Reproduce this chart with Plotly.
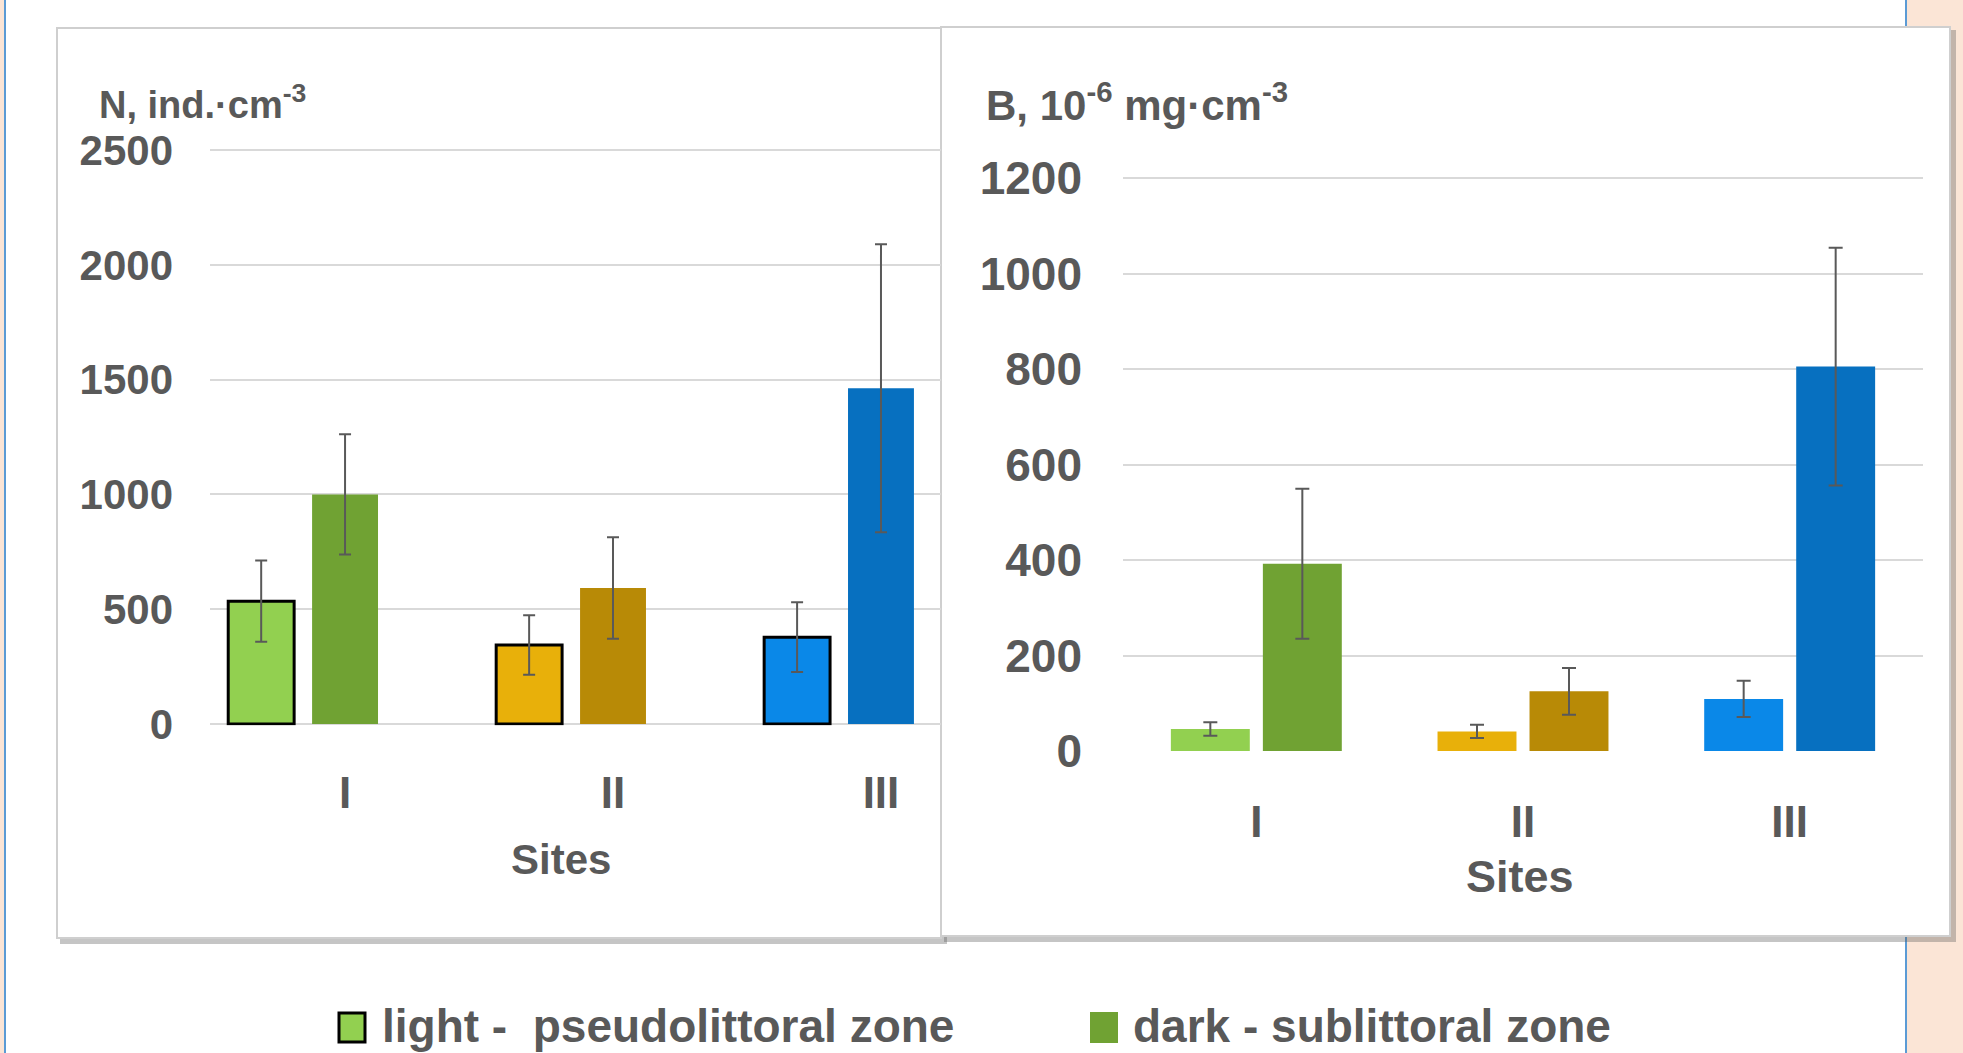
import plotly.graph_objects as go

# ---------------- data ----------------
sites = ["I", "II", "III"]

N_light = [535, 344, 378]
N_light_err = [177, 130, 152]
N_dark = [1000, 592, 1462]
N_dark_err = [262, 221, 627]

B_light = [46, 41, 109]
B_light_err = [14, 14, 38]
B_dark = [392, 125, 805]
B_dark_err = [157, 49, 249]

light_colors = ["#92D050", "#E8B00A", "#0A88E8"]
dark_colors = ["#70A233", "#B88A06", "#0770C0"]

N_ticks = [0, 500, 1000, 1500, 2000, 2500]
B_ticks = [0, 200, 400, 600, 800, 1000, 1200]

legend_labels = ["light -&nbsp; pseudolittoral zone", "dark - sublittoral zone"]

# ---------------- layout geometry (pixels) ----------------
W, H = 1963, 1053
FONT = "Liberation Sans, Arial, sans-serif"
TXT = "#595959"


def px(x):
    return x / W


def py(y):
    return 1 - y / H


fig = go.Figure()

err_style = dict(type="data", color=TXT, thickness=2)

# Left panel (N)
fig.add_trace(go.Bar(
    x=sites, y=N_light, offset=-0.436, width=0.246,
    marker=dict(color=light_colors, line=dict(color="#000000", width=3)),
    error_y=dict(array=N_light_err, width=6, **err_style),
    xaxis="x", yaxis="y", showlegend=False))
fig.add_trace(go.Bar(
    x=sites, y=N_dark, offset=-0.123, width=0.246,
    marker=dict(color=dark_colors, line=dict(width=0)),
    error_y=dict(array=N_dark_err, width=6, **err_style),
    xaxis="x", yaxis="y", showlegend=False))

# Right panel (B)
fig.add_trace(go.Bar(
    x=sites, y=B_light, offset=-0.3205, width=0.296,
    marker=dict(color=light_colors, line=dict(width=0)),
    error_y=dict(array=B_light_err, width=7, **err_style),
    xaxis="x2", yaxis="y2", showlegend=False))
fig.add_trace(go.Bar(
    x=sites, y=B_dark, offset=0.0245, width=0.296,
    marker=dict(color=dark_colors, line=dict(width=0)),
    error_y=dict(array=B_dark_err, width=7, **err_style),
    xaxis="x2", yaxis="y2", showlegend=False))

grid = "#D9D9D9"

fig.update_layout(
    width=W, height=H,
    margin=dict(l=0, r=0, t=0, b=0),
    paper_bgcolor="white",
    plot_bgcolor="rgba(0,0,0,0)",
    barmode="overlay",
    font=dict(family=FONT, color=TXT),
    xaxis=dict(domain=[px(210), px(941)], range=[-0.504, 2.224], type="category",
               categoryorder="array", categoryarray=sites,
               showgrid=False, zeroline=False, showline=False, ticks="",
               tickfont=dict(family=FONT, size=44, color=TXT, weight="bold"),
               ticklabelstandoff=38, automargin=False, fixedrange=True),
    yaxis=dict(domain=[py(725.15), py(148.85)], range=[-5, 2505], tickvals=N_ticks,
               showgrid=True, gridcolor=grid, gridwidth=2, zeroline=False,
               showline=False, ticks="",
               tickfont=dict(family=FONT, size=42, color=TXT, weight="bold"),
               ticklabelstandoff=36, automargin=False, fixedrange=True),
    xaxis2=dict(domain=[px(1123), px(1923)], range=[-0.5, 2.5], type="category",
                categoryorder="array", categoryarray=sites, anchor="y2",
                showgrid=False, zeroline=False, showline=False, ticks="",
                tickfont=dict(family=FONT, size=44, color=TXT, weight="bold"),
                ticklabelstandoff=40, automargin=False, fixedrange=True),
    yaxis2=dict(domain=[py(751.96), py(176.57)], range=[-2, 1203], tickvals=B_ticks,
                anchor="x2",
                showgrid=True, gridcolor=grid, gridwidth=2, zeroline=False,
                showline=False, ticks="",
                tickfont=dict(family=FONT, size=46, color=TXT, weight="bold"),
                ticklabelstandoff=40, automargin=False, fixedrange=True),
)

shapes = []
# peach page background strips and blue page borders
shapes.append(dict(type="rect", xref="paper", yref="paper", x0=px(1907), x1=1, y0=0, y1=1,
                   fillcolor="#FBE5D6", line=dict(width=0), layer="below"))
shapes.append(dict(type="rect", xref="paper", yref="paper", x0=0, x1=px(4), y0=0, y1=1,
                   fillcolor="#FBE5D6", line=dict(width=0), layer="below"))
shapes.append(dict(type="line", xref="paper", yref="paper", x0=px(1906), x1=px(1906), y0=0, y1=1,
                   line=dict(color="#5B9BD5", width=2), layer="below"))
shapes.append(dict(type="line", xref="paper", yref="paper", x0=px(5), x1=px(5), y0=0, y1=1,
                   line=dict(color="#5B9BD5", width=2), layer="below"))


def panel(x0, y0, x1, y1):
    # shadow
    shapes.append(dict(type="rect", xref="paper", yref="paper",
                       x0=px(x0 + 3), x1=px(x1 + 6), y0=py(y1 + 6), y1=py(y0 + 3),
                       fillcolor="rgba(90,90,90,0.35)", line=dict(width=0), layer="below"))
    shapes.append(dict(type="rect", xref="paper", yref="paper",
                       x0=px(x0), x1=px(x1), y0=py(y1), y1=py(y0),
                       fillcolor="white", line=dict(color="#CFCFCF", width=2), layer="below"))


panel(57, 28, 941, 938)
panel(941, 27, 1950, 936)

# legend swatches
shapes.append(dict(type="rect", xref="paper", yref="paper",
                   x0=px(339), x1=px(365), y0=py(1042), y1=py(1013),
                   fillcolor=light_colors[0], line=dict(color="#000000", width=3)))
shapes.append(dict(type="rect", xref="paper", yref="paper",
                   x0=px(1090), x1=px(1118), y0=py(1043), y1=py(1012),
                   fillcolor=dark_colors[0], line=dict(width=0)))
fig.update_layout(shapes=shapes)

ann = []
bold = dict(family=FONT, color=TXT, weight="bold")
ann.append(dict(xref="paper", yref="paper", x=px(97), y=py(102), xanchor="left", yanchor="middle",
                text="N, ind.·cm<sup>-3</sup>", showarrow=False, font=dict(size=38, **bold)))
ann.append(dict(xref="paper", yref="paper", x=px(984), y=py(102), xanchor="left", yanchor="middle",
                text="B, 10<sup>-6</sup> mg·cm<sup>-3</sup>", showarrow=False, font=dict(size=42, **bold)))
ann.append(dict(xref="paper", yref="paper", x=px(561), y=py(859), xanchor="center", yanchor="middle",
                text="Sites", showarrow=False, font=dict(size=42, **bold)))
ann.append(dict(xref="paper", yref="paper", x=px(1520), y=py(876), xanchor="center", yanchor="middle",
                text="Sites", showarrow=False, font=dict(size=45, **bold)))
ann.append(dict(xref="paper", yref="paper", x=px(380), y=py(1026), xanchor="left", yanchor="middle",
                text=legend_labels[0], showarrow=False, font=dict(size=46, **bold)))
ann.append(dict(xref="paper", yref="paper", x=px(1131), y=py(1026), xanchor="left", yanchor="middle",
                text=legend_labels[1], showarrow=False, font=dict(size=46, **bold)))
fig.update_layout(annotations=ann)

fig.write_html("out.html", config={"displayModeBar": False},
               post_script="document.body.style.margin='0px';")
